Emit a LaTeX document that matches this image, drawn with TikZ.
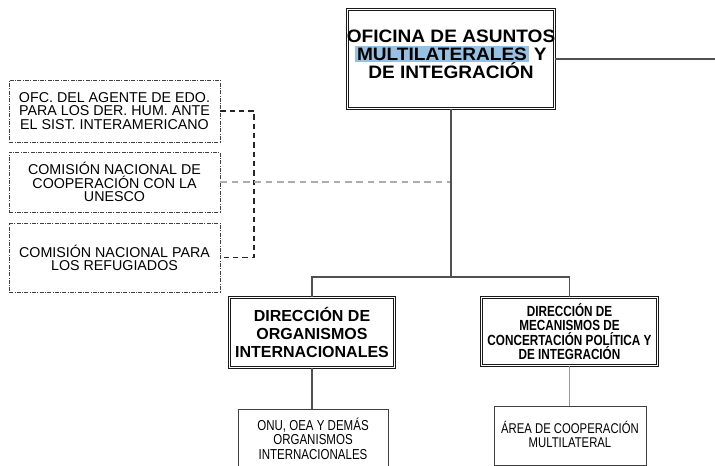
\documentclass[tikz,border=0pt]{standalone}
\usepackage{fontspec}
\setmainfont{Liberation Sans}
\newfontfamily\anchafont[FakeStretch=1.06]{Liberation Sans}
\newfontfamily\estrechafont[FakeStretch=0.8]{Liberation Sans}
\definecolor{selazul}{RGB}{150,193,226}
\definecolor{lineagris}{RGB}{80,80,80}

\tikzset{every picture/.style={line width=0.75pt}}
\tikzset{
  cajadoble/.style={draw=black!90, double=white, double distance=0.7pt, line width=0.85pt, inner sep=0pt, align=center},
  cajasimple/.style={draw=black!75, line width=0.6pt, inner sep=0pt, align=center},
  cajapunto/.style={draw=black!75, line width=0.5pt, dash pattern=on 3pt off 1pt on 0.7pt off 1pt, inner sep=0pt, align=center, font=\fontsize{10.7}{9.9}\selectfont},
  conector/.style={draw=lineagris, line width=0.8pt}
}

\begin{document}
\begin{tikzpicture}[x=0.75pt,y=0.75pt,yscale=-1,xscale=1]
\clip (0,0) rectangle (715,466);

% Oficina
\node [cajadoble, minimum width=155pt, minimum height=74pt] (ofi) at (451,59) {};
\node [align=center, inner sep=0pt, font=\anchafont\bfseries\fontsize{13.5}{13.6}\selectfont] (ofitxt) at ([yshift=-3.75pt]ofi.center)
  {OFICINA DE ASUNTOS\\{\setlength{\fboxsep}{1.2pt}\colorbox{selazul}{MULTILATERALES}} Y\\DE INTEGRACI\'ON};
\coordinate (der) at (715,58);
\draw [conector] (ofi.east) -- (ofi.east -| der);

% Organos adscritos
\node [cajapunto, minimum width=158pt, minimum height=46.5pt] (agente) at (114.5,111) {OFC. DEL AGENTE DE EDO.\\PARA LOS DER. HUM. ANTE\\EL SIST. INTERAMERICANO};
\node [cajapunto, minimum width=158pt, minimum height=45pt] (unesco) at (114.5,182) {COMISI\'ON NACIONAL DE\\COOPERACI\'ON CON LA\\UNESCO};
\node [cajapunto, minimum width=158pt, minimum height=51.75pt] (refug) at (114.5,257.5) {COMISI\'ON NACIONAL PARA\\LOS REFUGIADOS};

\coordinate (llave) at (254,182);
\coordinate (barra) at (451,277);
\draw [black!85, line width=0.8pt, dash pattern=on 4pt off 3pt] (agente.east) -| (llave) |- (refug.east);
\draw [gray!65, line width=0.9pt, dash pattern=on 5pt off 3.5pt] (unesco.east) -- (unesco.east -| barra);

% Direcciones
\node [cajadoble, minimum width=124pt, minimum height=52.5pt, font=\bfseries\fontsize{12}{13.5}\selectfont] (dirorg) at (312,332.5) {DIRECCI\'ON DE\\ORGANISMOS\\INTERNACIONALES};
\node [cajadoble, minimum width=132pt, minimum height=51pt, font=\estrechafont\bfseries\fontsize{11}{10.9}\selectfont] (dirmec) at (569.5,331.5) {DIRECCI\'ON DE\\MECANISMOS DE\\CONCERTACI\'ON POL\'ITICA Y\\DE INTEGRACI\'ON};

\draw [conector] (ofi.south) -- (barra);
\draw [conector] (dirorg.north) |- (barra) -| (dirmec.north);

% Areas
\node [cajasimple, minimum width=112.5pt, minimum height=44.25pt, font=\estrechafont\fontsize{10.8}{10.9}\selectfont] (onu) at (313,438.5) {ONU, OEA Y DEM\'AS\\ORGANISMOS\\INTERNACIONALES};
\node [cajasimple, minimum width=114pt, minimum height=44.25pt, font=\estrechafont\fontsize{10.6}{10.9}\selectfont] (coop) at (570,435.5) {\raisebox{2pt}{\shortstack{\'AREA DE COOPERACI\'ON\\MULTILATERAL}}};

\draw [conector] (dirorg.south) -- (onu.north -| dirorg.south);
\draw [conector, draw=gray!80] (dirmec.south) -- (coop.north -| dirmec.south);

\end{tikzpicture}
\end{document}
